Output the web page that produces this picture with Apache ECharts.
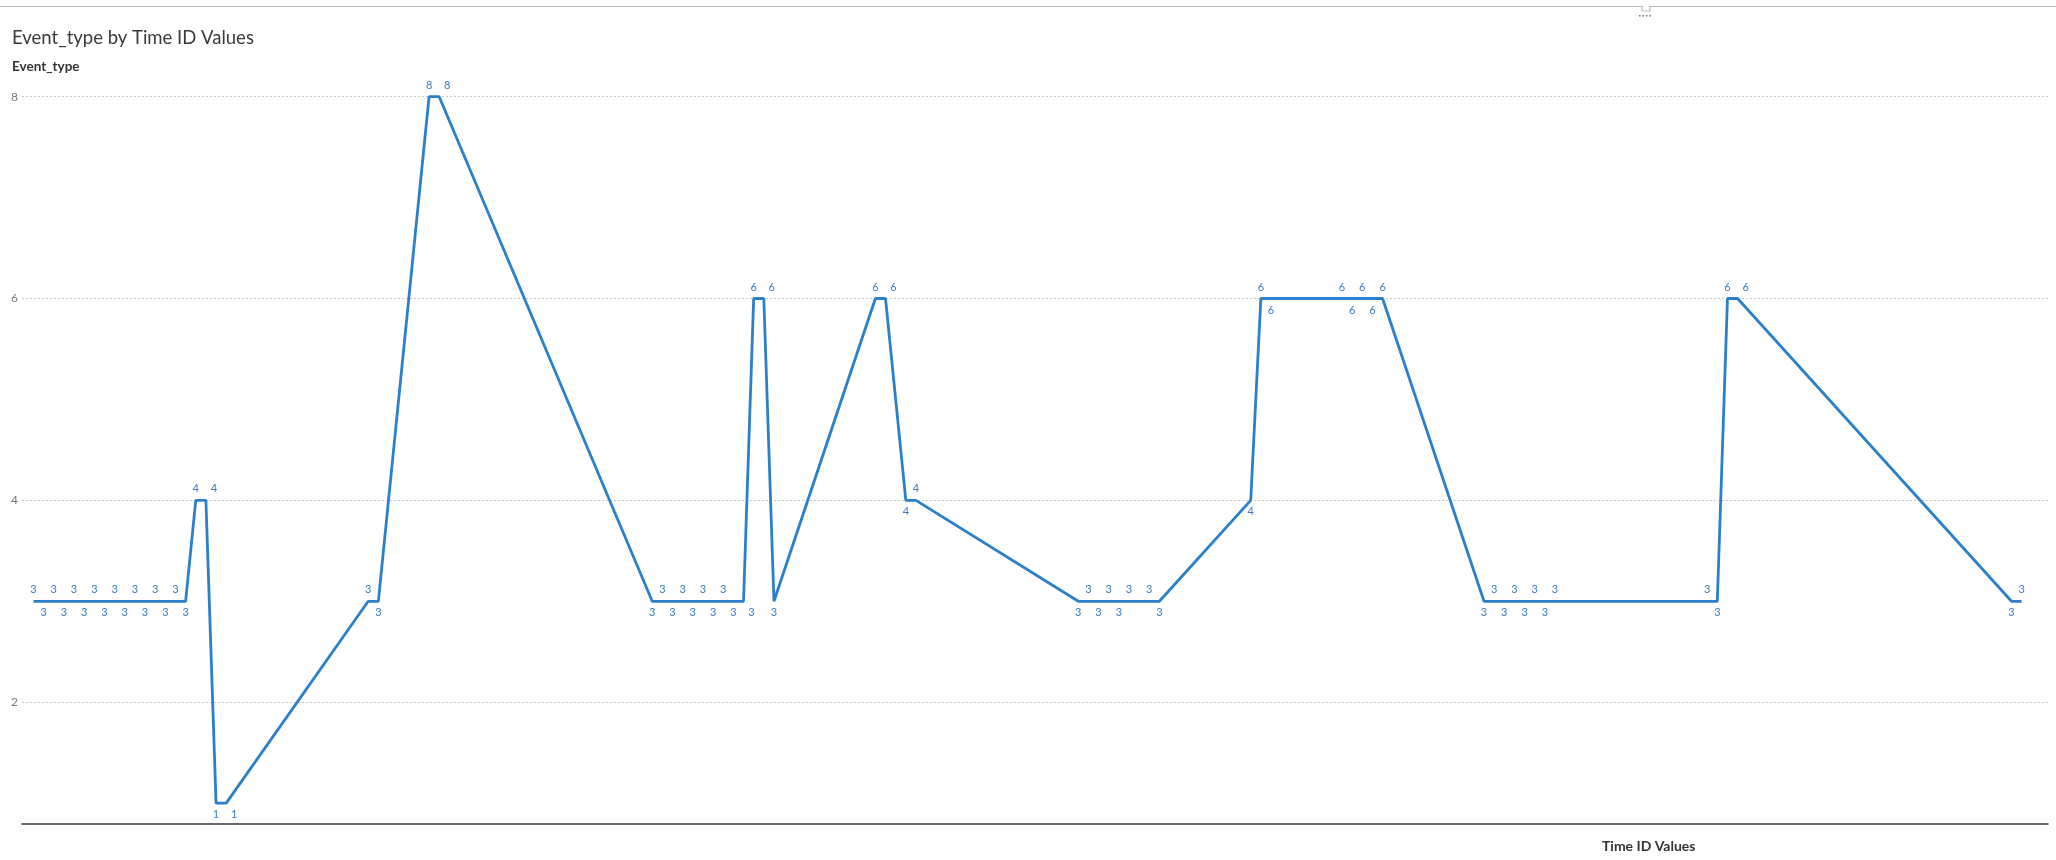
<!DOCTYPE html>
<html>
<head>
<meta charset="utf-8">
<title>Event_type by Time ID Values</title>
<script src="https://cdn.jsdelivr.net/npm/echarts@6/dist/echarts.min.js"></script>
<style>
    html, body { margin: 0; padding: 0; background: #fff; }
    #chart { width: 2056px; height: 860px; }
</style>
</head>
<body>
<div id="chart"></div>
<script>
// 数据：Time ID（横轴）和 Event_type（纵轴）
var timeIds = [
    0, 1, 2, 3, 4, 5, 6, 7, 8, 9, 10, 11, 12, 13, 14, 15,
    16, 17, 18, 19, 33, 34, 39, 40,
    61, 62, 63, 64, 65, 66, 67, 68, 69, 70,
    71, 72, 73, 83, 84, 86, 87,
    103, 104, 105, 106, 107, 108, 110, 111,
    120, 121, 122, 129, 130, 131, 132, 133,
    143, 144, 145, 146, 147, 148, 149, 150,
    165, 166, 167, 168, 195, 196
];
var eventType = [
    3, 3, 3, 3, 3, 3, 3, 3, 3, 3, 3, 3, 3, 3, 3, 3,
    4, 4, 1, 1, 3, 3, 8, 8,
    3, 3, 3, 3, 3, 3, 3, 3, 3, 3,
    6, 6, 3, 6, 6, 4, 4,
    3, 3, 3, 3, 3, 3, 3, 3,
    4, 6, 6, 6, 6, 6, 6, 6,
    3, 3, 3, 3, 3, 3, 3, 3,
    3, 3, 6, 6, 3, 3
];
var yTicks = [2, 4, 6, 8];

(function() {
    var myChart = echarts.init(document.getElementById('chart'));

    // 标签放上面还是下面：谷底放下，峰顶放上，平台上相邻的交替
    var positions = [];
    for (var i = 0; i < eventType.length; i++) {
        var cur = eventType[i];
        var prev = eventType[i - 1];
        var next = eventType[i + 1];
        var pos;
        if (next !== undefined && next > cur) {
            pos = 'bottom';
        } else if (prev !== undefined && prev > cur) {
            pos = 'bottom';
        } else if ((next !== undefined && next < cur) || (prev !== undefined && prev < cur)) {
            pos = 'top';
        } else if (i > 0 && timeIds[i] - timeIds[i - 1] === 1 && positions[i - 1] === 'top') {
            pos = 'bottom';
        } else {
            pos = 'top';
        }
        positions.push(pos);
    }

    var seriesData = timeIds.map(function(t, i) {
        // 和前一个标签挤在同一边时往右挪一点
        var crowded = i > 0 && t - timeIds[i - 1] === 1 && positions[i] === positions[i - 1];
        return {
            value: [t, eventType[i]],
            label: {
                position: positions[i],
                offset: crowded ? [8, 0] : [0, 0]
            }
        };
    });

    var option = {
        animation: false,
        backgroundColor: '#fff',
        textStyle: { fontFamily: 'Lato, "Open Sans", sans-serif' },
        grid: {
            left: 22,
            right: 8,
            top: 76.5,
            bottom: 36.7,
            containLabel: false
        },
        graphic: [
            // 顶部边框
            {
                type: 'polyline',
                silent: true,
                shape: { points: [[0, 6.5], [1642, 6.5], [1642, 11], [1650, 11], [1650, 6.5], [2056, 6.5]] },
                style: { stroke: '#b3b9c4', lineWidth: 1.2, fill: null }
            },
            { type: 'rect', shape: { x: 1639, y: 15, width: 1.6, height: 1.6 }, style: { fill: '#777' } },
            { type: 'rect', shape: { x: 1642.5, y: 15, width: 1.6, height: 1.6 }, style: { fill: '#777' } },
            { type: 'rect', shape: { x: 1646, y: 15, width: 1.6, height: 1.6 }, style: { fill: '#777' } },
            { type: 'rect', shape: { x: 1649.5, y: 15, width: 1.6, height: 1.6 }, style: { fill: '#777' } },
            {
                type: 'text',
                left: 12,
                top: 29,
                style: {
                    text: 'Event_type by Time ID Values',
                    fontSize: 18.5,
                    fontFamily: 'Lato',
                    fill: '#3a3a3a'
                }
            },
            {
                type: 'text',
                left: 12,
                top: 60,
                style: {
                    text: 'Event_type',
                    fontSize: 13.5,
                    fontWeight: 'bold',
                    fontFamily: 'Lato',
                    fill: '#333'
                }
            },
            {
                type: 'text',
                left: 1602,
                top: 839,
                style: {
                    text: 'Time ID Values',
                    fontSize: 14,
                    fontWeight: 'bold',
                    fontFamily: 'Lato',
                    fill: '#333'
                }
            }
        ],
        xAxis: {
            type: 'value',
            min: -1.13,
            max: 198.6,
            axisLine: {
                show: true,
                onZero: false,
                lineStyle: { color: '#333', width: 1.5 }
            },
            axisTick: { show: false },
            axisLabel: { show: false },
            splitLine: { show: false }
        },
        yAxis: {
            type: 'value',
            min: 0.8,
            max: 8.2,
            axisLine: { show: false },
            axisTick: { show: false, customValues: yTicks },
            axisLabel: {
                customValues: yTicks,
                margin: 4,
                color: '#707783',
                fontSize: 12,
                fontFamily: 'Lato'
            },
            splitLine: {
                show: true,
                lineStyle: { color: '#c8c8c8', type: [2, 2], width: 1 }
            }
        },
        series: [{
            type: 'line',
            name: 'Event_type',
            data: seriesData,
            symbol: 'circle',
            symbolSize: 0,
            showSymbol: true,
            lineStyle: { color: '#2b7fcb', width: 2.8 },
            itemStyle: { color: '#2b7fcb' },
            label: {
                show: true,
                distance: 6,
                color: '#3b7cc0',
                fontSize: 11,
                fontFamily: 'Lato'
            },
            emphasis: { disabled: true }
        }]
    };
    myChart.setOption(option);
})();
</script>
</body>
</html>
